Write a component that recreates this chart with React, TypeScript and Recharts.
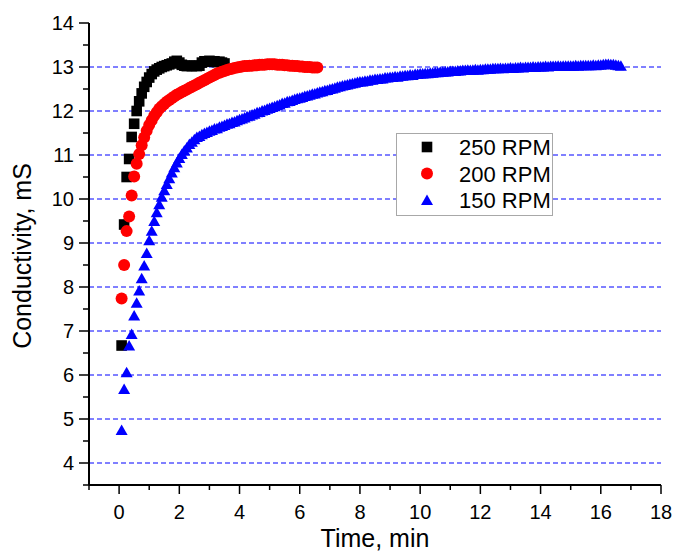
import React from 'react';
import { ScatterChart, Scatter, XAxis, YAxis, ReferenceLine, Legend, Label } from 'recharts';

// sampling interval of the conductivity meter: 5 s
const STEP_MIN = 5 / 60;

// conductivity readings (mS), one per sample, starting at the first sample
const rpm250 = [
  6.67, 9.42, 10.5, 10.91, 11.41, 11.71, 12.0, 12.22, 12.4, 12.55, 12.66, 12.76,
  12.84, 12.9, 12.94, 12.97, 13.0, 13.02, 13.04, 13.06, 13.08, 13.12, 13.14, 13.1,
  13.05, 13.03, 13.02, 13.03, 13.02, 13.03, 13.02, 13.03, 13.1, 13.13, 13.12, 13.14,
  13.12, 13.13, 13.11, 13.12, 13.1, 13.08,
];

const rpm200 = [
  7.74, 8.5, 9.27, 9.6, 10.08, 10.51, 10.8, 11.02, 11.22, 11.4, 11.55, 11.68,
  11.79, 11.89, 11.97, 12.05, 12.11, 12.16, 12.21, 12.25, 12.29, 12.33, 12.37, 12.4,
  12.43, 12.46, 12.49, 12.52, 12.55, 12.58, 12.61, 12.64, 12.67, 12.7, 12.73, 12.76,
  12.79, 12.82, 12.85, 12.87, 12.89, 12.91, 12.93, 12.95, 12.96, 12.98, 12.99, 13.0,
  13.01, 13.02, 13.02, 13.03, 13.03, 13.04, 13.04, 13.05, 13.05, 13.05, 13.06, 13.06,
  13.06, 13.06, 13.05, 13.05, 13.05, 13.04, 13.04, 13.03, 13.03, 13.02, 13.02, 13.01,
  13.01, 13.0, 13.0, 13.0, 12.99, 12.99, 12.99,
];

const rpm150 = [
  4.75, 5.68, 6.06, 6.67, 6.93, 7.35, 7.64, 7.92, 8.2, 8.49, 8.77, 9.06,
  9.28, 9.5, 9.7, 9.88, 10.05, 10.2, 10.34, 10.47, 10.6, 10.72, 10.83, 10.93,
  11.02, 11.1, 11.17, 11.25, 11.3, 11.36, 11.41, 11.43, 11.47, 11.5, 11.52, 11.55,
  11.57, 11.6, 11.61, 11.64, 11.66, 11.68, 11.71, 11.72, 11.75, 11.76, 11.79, 11.81,
  11.83, 11.85, 11.88, 11.89, 11.92, 11.94, 11.97, 11.98, 12.01, 12.02, 12.05, 12.07,
  12.09, 12.11, 12.13, 12.15, 12.18, 12.19, 12.22, 12.23, 12.25, 12.27, 12.29, 12.3,
  12.32, 12.34, 12.35, 12.37, 12.39, 12.4, 12.42, 12.44, 12.45, 12.47, 12.48, 12.5,
  12.51, 12.53, 12.55, 12.56, 12.58, 12.59, 12.6, 12.62, 12.63, 12.64, 12.66, 12.67,
  12.67, 12.69, 12.69, 12.71, 12.71, 12.73, 12.73, 12.74, 12.74, 12.76, 12.76, 12.77,
  12.77, 12.79, 12.78, 12.8, 12.8, 12.81, 12.81, 12.83, 12.82, 12.84, 12.84, 12.85,
  12.85, 12.86, 12.86, 12.87, 12.87, 12.88, 12.88, 12.89, 12.89, 12.9, 12.9, 12.91,
  12.91, 12.91, 12.92, 12.92, 12.93, 12.93, 12.94, 12.93, 12.94, 12.95, 12.94, 12.95,
  12.95, 12.96, 12.96, 12.96, 12.97, 12.97, 12.97, 12.98, 12.97, 12.98, 12.98, 12.99,
  12.98, 12.99, 12.99, 13.0, 12.99, 13.0, 13.0, 13.0, 13.01, 13.0, 13.01, 13.01,
  13.01, 13.02, 13.01, 13.02, 13.02, 13.02, 13.03, 13.02, 13.03, 13.03, 13.03, 13.03,
  13.03, 13.04, 13.03, 13.04, 13.04, 13.04, 13.04, 13.04, 13.05, 13.04, 13.05, 13.05,
  13.06, 13.07, 13.07, 13.06, 13.06, 13.05, 13.04, 13.03,
];

const seriesNames = ['250 RPM', '200 RPM', '150 RPM'];

const xTicks = [-1, 0, 1, 2, 3, 4, 5, 6, 7, 8, 9, 10, 11, 12, 13, 14, 15, 16, 17, 18];
const yTicks = [3.5, 4, 4.5, 5, 5.5, 6, 6.5, 7, 7.5, 8, 8.5, 9, 9.5, 10, 10.5, 11, 11.5, 12, 12.5, 13, 13.5, 14];
const gridLevels = [4, 5, 6, 7, 8, 9, 10, 11, 12, 13];

const FONT = 'Arial, "Liberation Sans", sans-serif';

const toPoints = (vals: number[]) => vals.map((v, i) => ({ t: (i + 1) * STEP_MIN, v }));

// marker shapes
const Square = ({ cx, cy }: any) => (
  <rect x={cx - 5.3} y={cy - 5.3} width={10.6} height={10.6} fill="#000000" />
);
const Dot = ({ cx, cy }: any) => <circle cx={cx} cy={cy} r={6} fill="#ff0000" />;
const Tri = ({ cx, cy }: any) => (
  <polygon
    points={`${cx},${cy - 5.5} ${cx + 6},${cy + 5} ${cx - 6},${cy + 5}`}
    fill="#0000ff"
  />
);

const shapes = [Square, Dot, Tri];

// ticks (major ticks are labelled, minor ones only get a short line)
const BottomTick = ({ x, y, payload }: any) => {
  const major = payload.value % 2 === 0;
  return (
    <g>
      <line x1={x} x2={x} y1={y} y2={y + (major ? 9 : 5)} stroke="#000" strokeWidth={1.5} />
      {major && (
        <text x={x} y={y + 34} textAnchor="middle" fontSize={20} fontFamily={FONT} fill="#000">
          {payload.value}
        </text>
      )}
    </g>
  );
};

const TopTick = ({ x, y, payload }: any) => {
  const major = payload.value % 2 === 0;
  return <line x1={x} x2={x} y1={y} y2={y + (major ? 9 : 6)} stroke="#000" strokeWidth={1.5} />;
};

const LeftTick = ({ x, y, payload }: any) => {
  const major = Number.isInteger(payload.value);
  return (
    <g>
      <line x1={x - (major ? 10 : 6)} x2={x} y1={y} y2={y} stroke="#000" strokeWidth={1.5} />
      {major && (
        <text x={x - 15} y={y + 7} textAnchor="end" fontSize={20} fontFamily={FONT} fill="#000">
          {payload.value}
        </text>
      )}
    </g>
  );
};

const RightTick = ({ x, y, payload }: any) => {
  const major = Number.isInteger(payload.value);
  return <line x1={x - (major ? 10 : 6)} x2={x} y1={y} y2={y} stroke="#000" strokeWidth={1.5} />;
};

const LegendBox = () => (
  <div
    style={{
      width: 157,
      height: 83,
      border: '1px solid #a8a8a8',
      background: '#fff',
      boxSizing: 'border-box',
    }}
  >
    <svg width={155} height={81} style={{ display: 'block' }}>
      {seriesNames.map((name, i) => {
        const Shape = shapes[i];
        const cy = 13 + i * 26.5;
        return (
          <g key={name}>
            <Shape cx={30} cy={cy} />
            <text x={62} y={cy + 8} fontSize={22} fontFamily={FONT} fill="#000">
              {name}
            </text>
          </g>
        );
      })}
    </svg>
  </div>
);

export default function App() {
  const series = [rpm250, rpm200, rpm150];

  return (
    <div style={{ width: 676, height: 552, overflow: 'hidden', background: '#fff' }}>
      <style>{'body { margin: 0; overflow: hidden; }'}</style>
      <ScatterChart width={676} height={552} margin={{ top: 23, right: 15, bottom: 0, left: 0 }}>
        <XAxis
          type="number"
          dataKey="t"
          domain={[-1, 18]}
          ticks={xTicks}
          interval={0}
          allowDataOverflow
          height={67}
          tickSize={0}
          tickMargin={0}
          tickLine={false}
          tick={<BottomTick />}
          axisLine={{ stroke: '#000', strokeWidth: 2 }}
        >
          <Label
            content={() => (
              <text x={375} y={547} textAnchor="middle" fontSize={25} fontFamily={FONT} fill="#000">
                Time, min
              </text>
            )}
          />
        </XAxis>
        <XAxis
          xAxisId="top"
          orientation="top"
          type="number"
          dataKey="t"
          domain={[-1, 18]}
          ticks={xTicks}
          interval={0}
          allowDataOverflow
          height={0}
          tickSize={0}
          tickMargin={0}
          tickLine={false}
          tick={<TopTick />}
          axisLine={{ stroke: '#000', strokeWidth: 2 }}
        />
        <YAxis
          type="number"
          dataKey="v"
          domain={[3.5, 14]}
          ticks={yTicks}
          interval={0}
          allowDataOverflow
          width={89}
          tickSize={0}
          tickMargin={0}
          tickLine={false}
          tick={<LeftTick />}
          axisLine={{ stroke: '#000', strokeWidth: 2 }}
        >
          <Label
            content={() => (
              <text
                x={22}
                y={256}
                transform="rotate(-90 22 256)"
                textAnchor="middle"
                dominantBaseline="central"
                fontSize={25}
                fontFamily={FONT}
                fill="#000"
              >
                Conductivity, mS
              </text>
            )}
          />
        </YAxis>
        <YAxis
          yAxisId="right"
          orientation="right"
          type="number"
          dataKey="v"
          domain={[3.5, 14]}
          ticks={yTicks}
          interval={0}
          allowDataOverflow
          width={0}
          tickSize={0}
          tickMargin={0}
          tickLine={false}
          tick={<RightTick />}
          axisLine={{ stroke: '#000', strokeWidth: 2 }}
        />

        {/* dashed horizontal grid */}
        {gridLevels.map((g) => (
          <ReferenceLine key={g} y={g} stroke="#0000ff" strokeWidth={1} strokeDasharray="5 3" />
        ))}

        {series.map((vals, i) => {
          const Shape = shapes[i];
          return (
            <Scatter
              key={seriesNames[i]}
              name={seriesNames[i]}
              data={toPoints(vals)}
              shape={<Shape />}
              isAnimationActive={false}
            />
          );
        })}

        <Legend
          layout="horizontal"
          align="center"
          verticalAlign="middle"
          content={<LegendBox />}
          wrapperStyle={{ left: 396, top: 133, width: 157, height: 83 }}
        />
      </ScatterChart>
    </div>
  );
}
